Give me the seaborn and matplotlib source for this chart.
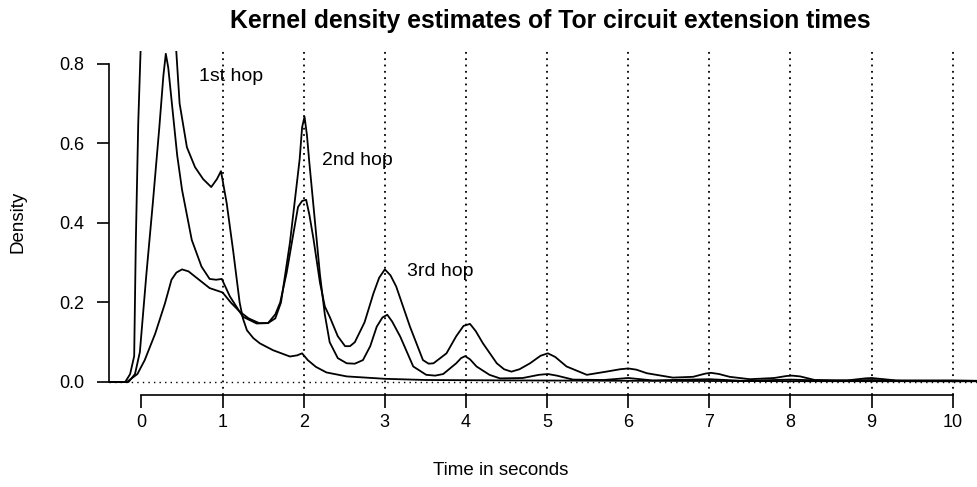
import numpy as np
import pandas as pd
import matplotlib
matplotlib.use("Agg")
import matplotlib.pyplot as plt
import seaborn as sns

# curves (time in seconds, density)
hop1_t = [-0.40, -0.20, -0.14, -0.09, -0.07, -0.04, -0.01, 0.05, 0.20, 0.35, 0.42,
          0.47, 0.56, 0.66, 0.76, 0.86, 0.93, 0.98, 1.05, 1.13, 1.21, 1.25, 1.30,
          1.38, 1.46, 1.62, 1.83, 1.92, 1.98, 2.05, 2.15, 2.28, 2.53, 3.0, 3.5, 4.5,
          6.0, 8.0, 10.3]
hop1_d = [0.0, 0.0, 0.02, 0.065, 0.35, 0.65, 0.84, 1.10, 1.30, 1.15, 0.86,
          0.70, 0.59, 0.54, 0.51, 0.49, 0.51, 0.53, 0.45, 0.33, 0.20, 0.16, 0.13,
          0.11, 0.097, 0.08, 0.064, 0.067, 0.072, 0.055, 0.038, 0.024, 0.014, 0.008,
          0.005, 0.004, 0.003, 0.002, 0.002]

hop2_t = [-0.40, -0.16, -0.08, -0.02, 0.06, 0.14, 0.22, 0.27, 0.30, 0.33, 0.38,
          0.44, 0.50, 0.62, 0.74, 0.84, 0.92, 0.99, 1.09, 1.25, 1.42, 1.56, 1.65,
          1.72, 1.83, 1.95, 1.98, 2.01, 2.04, 2.07, 2.14, 2.20, 2.26, 2.32, 2.42,
          2.53, 2.63, 2.73, 2.82, 2.90, 2.97, 3.03, 3.09, 3.19, 3.35, 3.51, 3.62,
          3.72, 3.88, 3.94, 3.99, 4.05, 4.13, 4.29, 4.42, 4.70, 4.90, 5.01, 5.12,
          5.32, 5.70, 6.0, 6.3, 7.0, 7.4, 8.0, 8.5, 9.0, 9.5, 10.3]
hop2_d = [0.0, 0.0, 0.02, 0.075, 0.27, 0.45, 0.64, 0.77, 0.825, 0.79, 0.69,
          0.57, 0.483, 0.357, 0.29, 0.259, 0.257, 0.259, 0.215, 0.164, 0.147, 0.148,
          0.16, 0.20, 0.35, 0.56, 0.64, 0.667, 0.62, 0.55, 0.40, 0.27, 0.17, 0.10,
          0.06, 0.047, 0.046, 0.055, 0.09, 0.139, 0.162, 0.169, 0.152, 0.114, 0.039,
          0.018, 0.016, 0.02, 0.047, 0.06, 0.065, 0.057, 0.039, 0.018, 0.009, 0.01,
          0.018, 0.02, 0.016, 0.006, 0.005, 0.01, 0.004, 0.007, 0.003, 0.006, 0.003,
          0.005, 0.002, 0.002]

hop3_t = [-0.40, -0.18, -0.05, 0.04, 0.17, 0.29, 0.37, 0.43, 0.50, 0.58, 0.66,
          0.84, 1.0, 1.10, 1.21, 1.32, 1.45, 1.56, 1.65, 1.71, 1.79, 1.87, 1.93,
          1.98, 2.03, 2.07, 2.12, 2.20, 2.26, 2.32, 2.42, 2.51, 2.57, 2.63, 2.75,
          2.86, 2.93, 3.0, 3.07, 3.14, 3.31, 3.47, 3.54, 3.60, 3.76, 3.88, 3.97,
          4.05, 4.12, 4.21, 4.38, 4.47, 4.56, 4.66, 4.79, 4.92, 5.01, 5.10, 5.24,
          5.49, 5.73, 5.90, 6.0, 6.10, 6.23, 6.55, 6.80, 6.95, 7.02, 7.12, 7.25, 7.5,
          7.8, 7.95, 8.02, 8.12, 8.3, 8.7, 8.92, 9.0, 9.1, 9.3, 10.0, 10.3]
hop3_d = [0.0, 0.0, 0.02, 0.055, 0.122, 0.198, 0.257, 0.275, 0.283, 0.278, 0.265,
          0.236, 0.225, 0.20, 0.177, 0.16, 0.148, 0.148, 0.17, 0.20, 0.275, 0.37,
          0.44, 0.455, 0.458, 0.42, 0.36, 0.25, 0.19, 0.164, 0.115, 0.09, 0.09,
          0.10, 0.15, 0.223, 0.262, 0.283, 0.268, 0.24, 0.139, 0.055, 0.046, 0.047,
          0.072, 0.115, 0.141, 0.146, 0.128, 0.097, 0.047, 0.032, 0.026, 0.032,
          0.047, 0.066, 0.072, 0.063, 0.039, 0.018, 0.026, 0.032, 0.034, 0.031,
          0.022, 0.011, 0.013, 0.021, 0.023, 0.02, 0.013, 0.007, 0.01, 0.015, 0.016,
          0.014, 0.005, 0.004, 0.009, 0.01, 0.008, 0.004, 0.004, 0.003]

hop_labels = ["1st hop", "2nd hop", "3rd hop"]
label_pos = [(1.10, 0.767), (2.66, 0.556), (3.68, 0.277)]
x_ticks = list(range(0, 11))
y_ticks = [0.0, 0.2, 0.4, 0.6, 0.8]

sns.set_theme(style="ticks")
plt.rcParams['font.family'] = ['Liberation Sans', 'DejaVu Sans']
plt.rcParams['text.color'] = 'black'

fig = plt.figure(figsize=(9.77, 4.87), dpi=100)
ax = fig.add_axes([0.1116, 0.1895, 0.8884, 0.7058])

# dotted grid at whole seconds and at zero
for s in x_ticks[1:]:
    ax.axvline(s, color='black', lw=1.3, linestyle=(0, (1, 2.5)), zorder=1)
ax.axhline(0, color='black', lw=1.0, linestyle=(0, (1, 3)), zorder=1)

for t, d in [(hop1_t, hop1_d), (hop2_t, hop2_d), (hop3_t, hop3_d)]:
    df = pd.DataFrame({'t': t, 'd': d})
    sns.lineplot(data=df, x='t', y='d', color='black', lw=1.3, ax=ax,
                 estimator=None, sort=False, zorder=3)

for lab, (x, y) in zip(hop_labels, label_pos):
    ax.text(x, y, lab, ha='center', va='center', fontsize=14, color='black', zorder=4)

ax.set_xlim(-0.40, 10.30)
ax.set_ylim(-0.032, 0.832)
ax.set_xticks(x_ticks)
ax.set_xticklabels([str(v) for v in x_ticks])
ax.set_yticks(y_ticks)
ax.set_yticklabels([f"{v:.1f}" for v in y_ticks])
ax.set_xlabel('')
ax.set_ylabel('')

sns.despine(ax=ax)
ax.spines['left'].set_bounds(0, 0.8)
ax.spines['bottom'].set_bounds(0, 10)
for sp in ['left', 'bottom']:
    ax.spines[sp].set_color('black')
    ax.spines[sp].set_linewidth(1.2)
ax.tick_params(axis='both', direction='out', length=9, width=1.2, colors='black',
               labelsize=13)
ax.tick_params(axis='y', pad=9)
ax.tick_params(axis='x', pad=5)

fig.text(0.563, 0.957, 'Kernel density estimates of Tor circuit extension times',
         ha='center', va='center', fontsize=17.8, fontweight='bold', color='black')
fig.text(0.512, 0.033, 'Time in seconds', ha='center', va='center', fontsize=13.5,
         color='black')
fig.text(0.0184, 0.544, 'Density', ha='center', va='center', fontsize=13.5,
         rotation=90, color='black')

fig.savefig('out.png', dpi=100, facecolor='white')
